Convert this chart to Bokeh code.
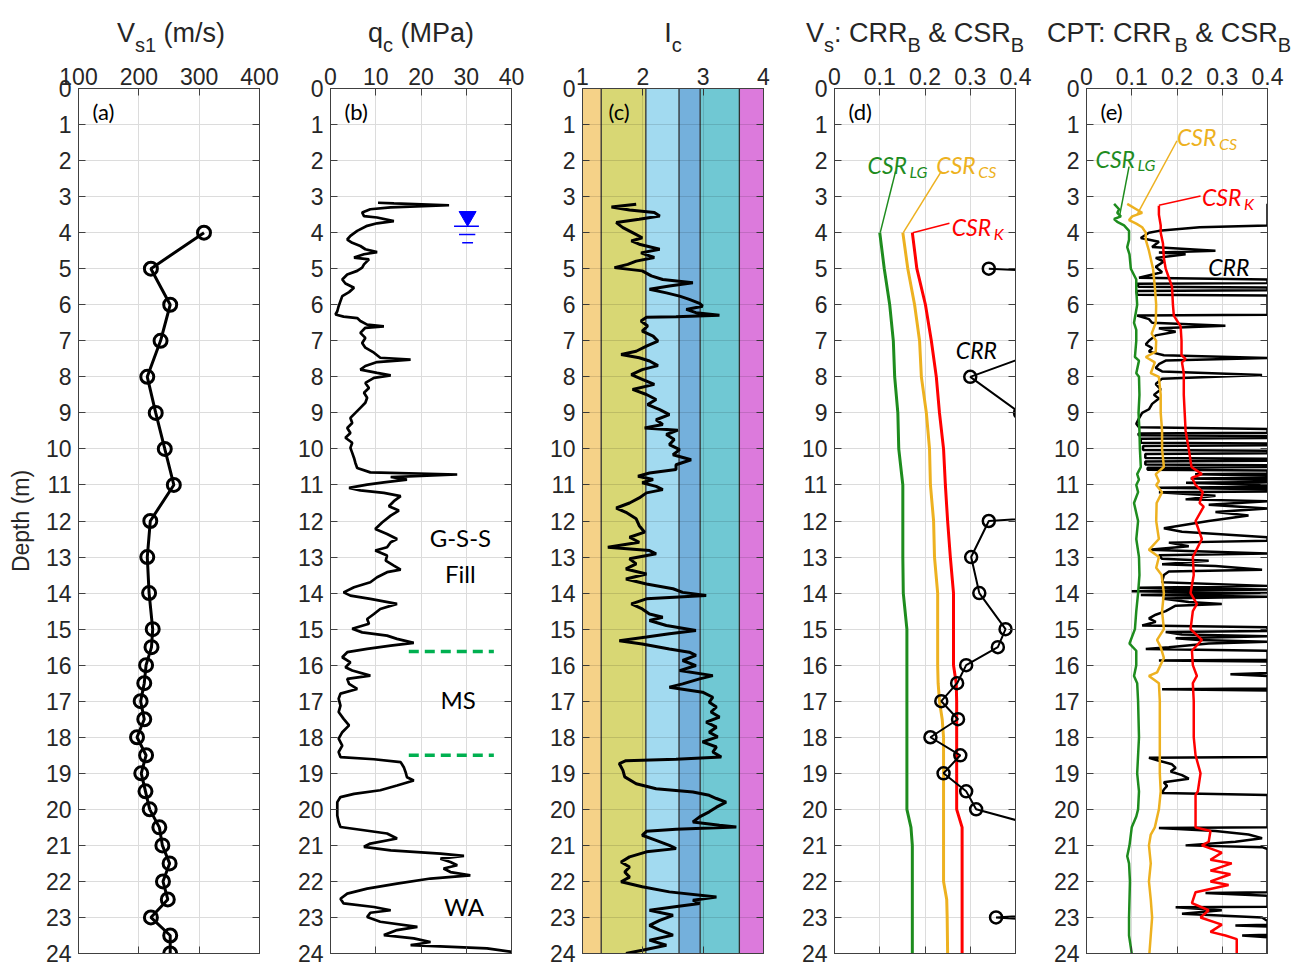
from bokeh.plotting import figure
from bokeh.models import Range1d, FixedTicker, LinearAxis, Label, CustomJSTickFormatter
from bokeh.layouts import row, column
from bokeh.embed import file_html
from bokeh.resources import INLINE

# ---------------- data ----------------
depth_ticks = list(range(0, 25))

# (a) Vs1
vs_depth = [4, 5, 6, 7, 8, 9, 10, 11, 12, 13, 14, 15, 15.5, 16, 16.5, 17, 17.5, 18, 18.5,
            19, 19.5, 20, 20.5, 21, 21.5, 22, 22.5, 23, 23.5, 24]
vs1 = [308, 220, 252, 236, 214, 228, 243, 258, 219, 214, 217, 223, 221, 212, 209, 203, 209,
       197, 212, 204, 211, 218, 234, 239, 251, 240, 248, 220, 252, 252]

# (b) qc
qc_depth = [3.17, 3.19, 3.24, 3.30, 3.35, 3.44, 3.54, 3.58, 3.68, 3.74, 3.81, 3.95, 4.09, 4.19,
            4.28, 4.37, 4.46, 4.54, 4.60, 4.69, 4.74, 4.88, 4.97, 5.06, 5.16, 5.30, 5.41, 5.53,
            5.65, 5.76, 5.90, 6.04, 6.18, 6.27, 6.33, 6.37, 6.45, 6.55, 6.60, 6.64, 6.78, 6.92,
            7.06, 7.19, 7.33, 7.47, 7.52, 7.59, 7.70, 7.80, 7.89, 7.96, 8.03, 8.17, 8.31, 8.44,
            8.58, 8.72, 8.86, 9.00, 9.14, 9.28, 9.42, 9.56, 9.69, 9.83, 9.97, 10.11, 10.25,
            10.39, 10.53, 10.65, 10.71, 10.78, 10.85, 10.93, 10.99, 11.08, 11.15, 11.22, 11.31,
            11.45, 11.59, 11.71, 11.85, 12.04, 12.22, 12.36, 12.50, 12.59, 12.73, 12.82, 12.96,
            13.10, 13.24, 13.35, 13.42, 13.56, 13.70, 13.84, 13.98, 14.07, 14.16, 14.30, 14.44,
            14.58, 14.72, 14.85, 14.99, 15.09, 15.18, 15.27, 15.38, 15.46, 15.55, 15.64, 15.78,
            15.92, 16.06, 16.15, 16.29, 16.38, 16.52, 16.66, 16.79, 16.93, 17.12, 17.30, 17.49,
            17.67, 17.86, 18.04, 18.23, 18.41, 18.55, 18.61, 18.69, 18.83, 18.97, 19.11, 19.20,
            19.34, 19.47, 19.57, 19.66, 19.80, 19.98, 20.17, 20.35, 20.49, 20.58, 20.67, 20.81,
            20.95, 21.04, 21.14, 21.23, 21.29, 21.37, 21.46, 21.55, 21.64, 21.74, 21.83, 21.92,
            22.06, 22.20, 22.34, 22.48, 22.61, 22.71, 22.80, 22.87, 22.99, 23.12, 23.26, 23.35,
            23.49, 23.58, 23.68, 23.77, 23.86, 23.95, 24.00]
qc_val = [10.5, 14.0, 26.2, 13.3, 8.8, 7.0, 7.4, 10.3, 14.0, 10.3, 8.1, 5.9, 4.4, 3.7,
          4.8, 6.6, 7.7, 10.3, 7.4, 5.2, 8.5, 7.4, 7.0, 5.9, 3.7, 2.6, 3.3, 5.2,
          4.1, 2.6, 2.2, 1.8, 1.5, 1.1, 2.9, 5.9, 6.6, 8.1, 11.8, 7.7, 6.6, 7.7,
          7.0, 7.7, 9.6, 11.0, 17.7, 10.3, 7.7, 6.6, 10.3, 13.3, 9.6, 7.7, 8.5, 7.4,
          8.1, 7.7, 6.6, 5.5, 4.4, 4.8, 3.7, 4.4, 3.3, 4.8, 4.4, 4.8, 5.2,
          5.5, 5.9, 8.8, 28.0, 13.3, 16.9, 11.8, 8.1, 4.1, 6.6, 11.8, 15.5,
          14.0, 12.9, 15.1, 13.3, 11.4, 9.9, 12.5, 14.7, 13.3, 12.5, 9.9, 12.5,
          12.2, 14.0, 15.5, 12.5, 10.3, 8.8, 5.2, 2.9, 4.4, 8.8, 14.7, 11.0,
          9.6, 8.1, 8.5, 4.8, 7.0, 12.5, 14.7, 18.4, 13.3, 8.1, 3.7, 2.6,
          4.4, 3.3, 4.8, 8.8, 3.7, 4.1, 5.9, 2.2, 1.8, 2.2, 1.8, 2.9,
          4.1, 2.6, 1.8, 2.6, 1.8, 2.2, 9.6, 15.5, 16.2, 16.6, 16.9, 18.4,
          14.7, 11.0, 5.2, 2.2, 1.5, 1.5, 1.5, 1.8, 2.2, 7.4, 12.5, 14.7,
          8.8, 7.4, 13.3, 24.3, 29.5, 24.3, 26.5, 28.0, 25.0, 26.5, 30.9, 22.1,
          14.7, 8.1, 3.7, 2.2, 2.9, 9.6, 13.3, 8.8, 8.1, 11.0, 19.2, 14.7,
          11.8, 18.4, 22.1, 17.7, 34.6, 39.8, 39.8]
gwt_depth = 3.55
gwt_qc = 30.3
layer_bounds = [15.62, 18.5]
layer_names = ["G-S-S", "Fill", "MS", "WA"]

# (c) Ic
ic_zone_bounds = [1.0, 1.31, 2.05, 2.60, 2.95, 3.60, 4.0]
ic_zone_colors = ["#F5D288", "#D8D774", "#A2DAF0", "#74B0DC", "#70C8D3", "#DC7ADC"]
ic_depth = [3.21, 3.29, 3.37, 3.44, 3.54, 3.63, 3.72, 3.86, 4.00, 4.14, 4.23, 4.32, 4.46, 4.56,
            4.69, 4.79, 4.88, 4.97, 5.06, 5.20, 5.30, 5.39, 5.48, 5.57, 5.67, 5.76, 5.85, 5.96,
            6.04, 6.13, 6.22, 6.29, 6.33, 6.35, 6.45, 6.59, 6.73, 6.87, 7.01, 7.15, 7.29, 7.38,
            7.47, 7.56, 7.69, 7.80, 7.94, 8.07, 8.21, 8.35, 8.49, 8.63, 8.77, 8.91, 9.05, 9.19,
            9.32, 9.42, 9.48, 9.60, 9.74, 9.88, 10.02, 10.16, 10.30, 10.44, 10.57, 10.67, 10.76,
            10.85, 10.94, 11.04, 11.13, 11.22, 11.36, 11.50, 11.64, 11.76, 11.94, 12.13, 12.31,
            12.45, 12.59, 12.73, 12.82, 12.91, 13.05, 13.19, 13.33, 13.47, 13.61, 13.75, 13.88,
            13.98, 14.07, 14.16, 14.30, 14.44, 14.58, 14.67, 14.76, 14.90, 15.04, 15.13, 15.22,
            15.32, 15.41, 15.55, 15.64, 15.73, 15.87, 16.01, 16.15, 16.29, 16.38, 16.52, 16.61,
            16.75, 16.89, 17.03, 17.16, 17.30, 17.44, 17.58, 17.72, 17.86, 17.99, 18.13, 18.27,
            18.41, 18.55, 18.61, 18.65, 18.73, 18.92, 19.10, 19.29, 19.43, 19.52, 19.61, 19.70,
            19.80, 19.94, 20.07, 20.21, 20.35, 20.44, 20.49, 20.55, 20.61, 20.72, 20.86, 21.00,
            21.09, 21.18, 21.32, 21.46, 21.60, 21.74, 21.88, 22.01, 22.15, 22.29, 22.43, 22.52,
            22.61, 22.71, 22.80, 22.94, 23.08, 23.22, 23.35, 23.49, 23.63, 23.77, 23.91, 24.00]
ic_val = [1.89, 1.48, 1.78, 2.19, 2.28, 1.94, 1.56, 1.67, 1.83, 1.99, 1.81, 1.94, 2.28, 1.97,
          2.19, 1.89, 1.75, 1.53, 1.99, 2.14, 2.33, 2.83, 2.44, 2.11, 2.39, 2.61, 2.77, 2.94,
          2.99, 2.72, 2.88, 3.27, 2.55, 2.06, 1.97, 2.08, 1.99, 2.17, 2.25, 2.06, 1.89, 1.64,
          1.94, 2.11, 2.25, 1.99, 1.81, 1.99, 2.19, 1.83, 2.06, 2.22, 2.08, 2.28, 2.44, 2.22,
          2.33, 2.03, 2.58, 2.39, 2.52, 2.44, 2.61, 2.50, 2.80, 2.55, 2.55, 2.11, 1.92,
          2.17, 1.99, 2.22, 2.33, 2.06, 1.94, 1.78, 1.56, 1.72, 1.89, 1.94, 2.03,
          1.78, 1.94, 1.42, 2.11, 2.22, 1.78, 1.89, 1.72, 2.06, 1.72, 2.06, 2.50,
          2.66, 3.05, 2.06, 1.81, 1.99, 2.11, 2.33, 2.11, 2.39, 2.88, 2.44, 2.06,
          1.61, 1.99, 2.44, 2.77, 2.88, 2.66, 2.88, 2.61, 3.16, 2.94, 2.66, 2.44,
          2.99, 3.16, 3.10, 3.22, 3.13, 3.27, 3.05, 3.22, 3.10, 3.24, 2.99, 3.22,
          3.16, 3.30, 2.55, 1.72, 1.61, 1.67, 1.70, 1.89, 2.22, 2.83, 3.10, 3.22,
          3.38, 3.22, 3.10, 2.94, 2.83, 3.27, 3.55, 2.55, 2.06, 1.99, 2.22, 2.44,
          2.55, 2.06, 1.78, 1.64, 1.78, 1.70, 1.78, 1.64, 1.99, 2.44, 3.22, 2.83,
          2.94, 2.50, 2.11, 2.50, 2.28, 2.11, 2.28, 2.50, 2.11, 2.39, 1.99, 1.72]

# (d) Vs-based CRR & CSR
d_depth = [4, 5, 6, 7, 8, 9, 10, 11, 12, 13, 14, 15, 16, 16.5, 17, 17.5, 18, 19, 20, 20.5,
           21, 22, 22.5, 23, 24]
d_csr_lg = [0.100, 0.110, 0.122, 0.130, 0.133, 0.140, 0.142, 0.151, 0.151, 0.151, 0.152,
            0.160, 0.160, 0.160, 0.160, 0.160, 0.160, 0.160, 0.160, 0.169, 0.172, 0.172,
            0.172, 0.172, 0.172]
d_csr_cs = [0.151, 0.162, 0.177, 0.188, 0.192, 0.203, 0.210, 0.212, 0.219, 0.221, 0.228,
            0.228, 0.228, 0.229, 0.232, 0.238, 0.241, 0.241, 0.241, 0.241, 0.241, 0.241,
            0.248, 0.249, 0.250]
d_csr_k = [0.172, 0.182, 0.201, 0.214, 0.225, 0.232, 0.241, 0.245, 0.250, 0.256, 0.263,
           0.263, 0.263, 0.269, 0.270, 0.270, 0.270, 0.270, 0.270, 0.282, 0.282, 0.282,
           0.282, 0.282, 0.282]
d_crr_depth = [5, 6, 7, 8, 9, 10, 11, 12, 13, 14, 15, 15.5, 16, 16.5, 17, 17.5, 18, 18.5,
               19, 19.5, 20, 20.5, 21, 21.5, 22, 22.5, 23, 23.5, 24]
d_crr = [0.341, 2.0, 0.52, 0.300, 0.41, 1.5, 1.5, 0.341, 0.302, 0.320, 0.378, 0.361, 0.291,
         0.271, 0.236, 0.273, 0.212, 0.278, 0.241, 0.291, 0.313, 0.46, 1.0, 1.0, 1.0, 1.0,
         0.357, 1.0, 1.0]

# (e) CPT-based CRR & CSR
e_lg_depth = [3.20, 3.35, 3.45, 3.55, 3.62, 3.70, 3.80, 3.95, 4.20, 4.40, 4.60, 5.00, 5.30,
              5.60, 6.00, 6.50, 6.70, 7.00, 7.45, 7.55, 7.90, 8.00, 8.50, 9.00, 9.50, 10.00,
              10.50, 10.70, 10.85, 11.00, 11.20, 11.50, 12.00, 12.50, 13.00, 13.50, 14.00,
              14.50, 15.00, 15.40, 15.60, 16.00, 16.30, 16.50, 17.00, 18.00, 19.00, 19.50,
              20.00, 20.20, 20.50, 21.00, 21.30, 21.50, 22.00, 22.50, 23.00, 23.50, 24.00]
e_csr_lg = [0.061, 0.072, 0.068, 0.076, 0.061, 0.068, 0.083, 0.094, 0.094, 0.090, 0.095,
            0.098, 0.110, 0.110, 0.112, 0.105, 0.110, 0.110, 0.107, 0.116, 0.110, 0.116,
            0.117, 0.115, 0.117, 0.118, 0.120, 0.112, 0.116, 0.110, 0.114, 0.105, 0.114,
            0.110, 0.116, 0.117, 0.114, 0.110, 0.107, 0.095, 0.110, 0.110, 0.105, 0.112,
            0.114, 0.116, 0.112, 0.116, 0.114, 0.110, 0.100, 0.095, 0.090, 0.094, 0.096,
            0.095, 0.094, 0.094, 0.100]
e_cs_depth = [3.20, 3.35, 3.45, 3.55, 3.65, 3.75, 3.85, 4.00, 4.20, 4.50, 5.00, 5.50, 6.00,
              6.50, 6.80, 7.00, 7.30, 7.45, 7.60, 7.90, 8.00, 8.50, 9.00, 9.50, 10.00, 10.50,
              10.70, 10.90, 11.00, 11.20, 11.50, 12.00, 12.50, 12.80, 13.00, 13.30, 13.50,
              14.00, 14.50, 15.00, 15.30, 15.50, 15.80, 16.20, 16.30, 16.50, 17.00, 18.00,
              18.50, 19.00, 19.50, 20.00, 20.50, 20.70, 21.00, 21.50, 22.00, 22.50, 23.00,
              23.50, 24.00]
e_csr_cs = [0.090, 0.110, 0.123, 0.101, 0.094, 0.110, 0.123, 0.131, 0.131, 0.138, 0.147,
            0.151, 0.154, 0.153, 0.144, 0.154, 0.153, 0.131, 0.151, 0.142, 0.160, 0.164,
            0.164, 0.167, 0.167, 0.171, 0.153, 0.160, 0.154, 0.167, 0.155, 0.154, 0.160,
            0.138, 0.160, 0.154, 0.166, 0.171, 0.167, 0.171, 0.156, 0.164, 0.171, 0.156,
            0.138, 0.160, 0.162, 0.162, 0.162, 0.162, 0.164, 0.160, 0.151, 0.142, 0.138,
            0.142, 0.138, 0.142, 0.145, 0.142, 0.139]
e_k_depth = [3.25, 3.50, 3.80, 4.00, 4.30, 4.70, 5.00, 5.50, 6.00, 6.30, 6.60, 7.00, 7.40,
             7.50, 7.60, 7.90, 8.00, 8.50, 9.00, 9.50, 10.00, 10.50, 10.70, 10.80, 11.00,
             11.20, 11.50, 11.60, 12.00, 12.50, 13.00, 13.50, 14.00, 14.30, 14.50, 15.00,
             15.30, 15.60, 16.00, 16.30, 16.50, 17.00, 18.00, 18.50, 19.00, 19.50, 19.60,
             20.00, 20.50, 20.60, 20.90, 21.00, 21.20, 21.40, 21.50, 21.70, 21.80, 22.00,
             22.10, 22.30, 22.60, 22.80, 23.00, 23.20, 23.40, 23.50, 23.60, 24.00]
e_csr_k = [0.160, 0.160, 0.164, 0.164, 0.169, 0.171, 0.175, 0.189, 0.191, 0.193, 0.208,
           0.210, 0.210, 0.219, 0.211, 0.215, 0.215, 0.215, 0.217, 0.219, 0.226, 0.232,
           0.255, 0.233, 0.241, 0.257, 0.250, 0.259, 0.241, 0.255, 0.235, 0.237, 0.230,
           0.244, 0.235, 0.230, 0.255, 0.233, 0.235, 0.244, 0.235, 0.237, 0.237, 0.241,
           0.252, 0.246, 0.241, 0.241, 0.241, 0.274, 0.270, 0.255, 0.299, 0.274, 0.321,
           0.274, 0.318, 0.274, 0.314, 0.241, 0.233, 0.270, 0.252, 0.299, 0.274, 0.307,
           0.332, 0.332]
e_crr_depth = [3.20, 3.80, 3.85, 3.95, 4.00, 4.15, 4.25, 4.40, 4.50, 4.55, 4.60, 4.70, 4.80,
               4.95, 5.10, 5.25, 5.30, 5.40, 5.42, 5.50, 5.52, 5.60, 5.62, 5.72, 5.74, 6.28,
               6.30, 6.40, 6.50, 6.58, 6.65, 6.75, 6.85, 7.00, 7.10, 7.20, 7.30, 7.40, 7.48,
               7.55, 7.65, 7.75, 7.85, 7.95, 8.05, 8.20, 8.35, 8.50, 8.60, 8.75, 8.90, 9.00,
               9.15, 9.30, 9.40, 9.45, 9.55, 9.57, 9.62, 9.64, 9.70, 9.72, 9.83, 9.85, 9.90,
               9.92, 10.03, 10.05, 10.12, 10.14, 10.25, 10.27, 10.33, 10.35, 10.43, 10.45,
               10.50, 10.52, 10.58, 10.60, 10.68, 10.70, 10.74, 10.80, 10.82, 10.86, 10.92,
               10.94, 11.00, 11.05, 11.08, 11.12, 11.18, 11.20, 11.30, 11.40, 11.45, 11.55,
               11.65, 11.75, 11.85, 12.00, 12.20, 12.30, 12.45, 12.55, 12.60, 12.70, 12.80,
               12.90, 12.95, 13.05, 13.10, 13.20, 13.25, 13.35, 13.40, 13.50, 13.70, 13.80,
               13.85, 13.90, 13.95, 14.00, 14.05, 14.10, 14.15, 14.25, 14.30, 14.35, 14.50,
               14.60, 14.70, 14.80, 14.90, 14.95, 15.05, 15.08, 15.15, 15.20, 15.25, 15.30,
               15.35, 15.40, 15.50, 15.55, 15.60, 15.85, 15.87, 15.90, 16.22, 16.25, 16.30,
               16.65, 16.67, 16.70, 18.55, 18.57, 18.65, 18.75, 18.85, 18.95, 19.05, 19.15,
               19.25, 19.35, 19.45, 19.55, 19.60, 20.50, 20.52, 20.60, 20.70, 20.80, 20.90,
               21.00, 21.05, 21.10, 22.30, 22.32, 22.40, 22.70, 22.72, 22.80, 22.90, 23.00,
               23.10, 23.20, 23.22, 23.25, 23.48, 23.50, 23.55, 24.00]
e_crr = [0.40, 0.40, 0.25, 0.16, 0.138, 0.12, 0.16, 0.145, 0.285, 0.16, 0.219, 0.153, 0.171,
         0.153, 0.167, 0.116, 0.40, 0.40, 0.112, 0.115, 0.40, 0.40, 0.11, 0.112, 0.40, 0.40,
         0.112, 0.138, 0.145, 0.307, 0.16, 0.197, 0.153, 0.138, 0.131, 0.145, 0.138, 0.171, 0.40,
         0.175, 0.16, 0.153, 0.167, 0.388, 0.167, 0.153, 0.164, 0.149, 0.16, 0.145, 0.138, 0.123,
         0.116, 0.11, 0.116, 0.40, 0.40, 0.115, 0.115, 0.40, 0.40, 0.12, 0.12, 0.40, 0.40,
         0.125, 0.125, 0.40, 0.40, 0.13, 0.13, 0.40, 0.40, 0.13, 0.13, 0.40,
         0.40, 0.135, 0.135, 0.40, 0.40, 0.24, 0.40, 0.40, 0.23, 0.40, 0.40,
         0.22, 0.40, 0.40, 0.16, 0.40, 0.40, 0.16, 0.285, 0.219, 0.40, 0.27,
         0.40, 0.285, 0.358, 0.27, 0.171, 0.211, 0.40, 0.40, 0.182, 0.226, 0.138,
         0.40, 0.16, 0.167, 0.27, 0.167, 0.285, 0.388, 0.182, 0.171, 0.167, 0.40,
         0.116, 0.40, 0.10, 0.40, 0.12, 0.40, 0.167, 0.226, 0.299, 0.197, 0.175,
         0.153, 0.138, 0.153, 0.123, 0.40, 0.40, 0.175, 0.211, 0.40, 0.197, 0.248,
         0.40, 0.27, 0.182, 0.131, 0.40, 0.40, 0.16, 0.40, 0.40, 0.318, 0.40,
         0.40, 0.167, 0.40, 0.40, 0.138, 0.16, 0.189, 0.197, 0.186, 0.211, 0.226,
         0.171, 0.178, 0.171, 0.167, 0.40, 0.40, 0.16, 0.285, 0.358, 0.388, 0.329,
         0.219, 0.388, 0.40, 0.40, 0.263, 0.40, 0.40, 0.197, 0.299, 0.211, 0.388,
         0.40, 0.40, 0.329, 0.40, 0.40, 0.344, 0.40, 0.40]

# ---------------- styling ----------------
FW, FH = 181, 865
TITLE_H = 56          # height of the strip that carries the panel titles
TOP, BOT = 32, 15     # panel borders below the title strip
LEFT_A, LEFT, RIGHT = 78, 51, 20
STRIP_W = 1306
NUM_FONT = "Liberation Sans"
ANN_FONT = "Lato"
AX = "#404040"
TXT = "#262626"
GRID = "#dcdcdc"
GREEN = "#1E8C1E"
GOLD = "#EDB120"
RED = "#FF0000"
TITLE_MAIN, TITLE_SUB = 27, 20

ARIAL = {"V": 667, "s": 500, "1": 556, " ": 278, "(": 333, "m": 833, "/": 278, ")": 333,
         "q": 556, "c": 500, "M": 833, "P": 667, "a": 556, "I": 278, ":": 278, "C": 722,
         "R": 722, "B": 667, "&": 667, "T": 611, "S": 667}


def tw(s, size):
    return sum(ARIAL.get(ch, 556) for ch in s) / 1000.0 * size


def make_panel(xr, xticks, fmt, left, right, ylabel=None):
    p = figure(x_range=Range1d(*xr), y_range=Range1d(24, 0), x_axis_location="above",
               frame_width=FW, frame_height=FH, min_border_left=left, min_border_right=right,
               min_border_top=TOP, min_border_bottom=BOT, output_backend="svg",
               toolbar_location=None, background_fill_color="white")
    xt = FixedTicker(ticks=xticks)
    yt = FixedTicker(ticks=depth_ticks)
    xa, ya = p.xaxis[0], p.yaxis[0]
    xa.ticker = xt
    ya.ticker = yt
    xa.formatter = CustomJSTickFormatter(code=fmt)
    ya.formatter = CustomJSTickFormatter(code="return tick.toFixed(0);")
    for ax in (xa, ya):
        ax.major_tick_in = 7
        ax.major_tick_out = 0
        ax.minor_tick_line_color = None
        ax.axis_line_color = AX
        ax.major_tick_line_color = AX
        ax.major_label_text_font = NUM_FONT
        ax.major_label_text_font_size = "23px"
        ax.major_label_text_color = TXT
    xa.major_label_standoff = 4
    ya.major_label_standoff = 7
    if ylabel:
        ya.axis_label = ylabel
        ya.axis_label_text_font = NUM_FONT
        ya.axis_label_text_font_size = "23px"
        ya.axis_label_text_font_style = "normal"
        ya.axis_label_text_color = TXT
        ya.axis_label_standoff = 9
    for loc, tk in (("right", yt), ("below", xt)):
        ax = LinearAxis(ticker=tk, formatter=CustomJSTickFormatter(code="return '';"),
                        major_tick_in=7, major_tick_out=0, minor_tick_line_color=None,
                        axis_line_color=AX, major_tick_line_color=AX,
                        major_label_text_font_size="1px", major_label_standoff=0)
        p.add_layout(ax, loc)
    p.xgrid.grid_line_color = GRID
    p.ygrid.grid_line_color = GRID
    p.outline_line_color = AX
    return p


def add_tag(p, xmin, tag, dx=14):
    p.add_layout(Label(x=xmin, y=0.64, x_offset=dx, text=tag, text_font=ANN_FONT,
                       text_font_size="22px", text_color="black", text_baseline="middle"))


def add_csr_label(p, x, y, sub, color, subdx):
    p.add_layout(Label(x=x, y=y, text="CSR", text_font=ANN_FONT, text_font_style="italic",
                       text_font_size="23px", text_color=color, text_baseline="alphabetic"))
    p.add_layout(Label(x=x, y=y, x_offset=subdx, y_offset=-6, text=sub, text_font=ANN_FONT,
                       text_font_style="italic", text_font_size="16px", text_color=color,
                       text_baseline="alphabetic"))


INT_FMT = "return tick.toFixed(0);"
DEC_FMT = "return tick === 0 ? '0' : tick.toFixed(1);"

# (a)
pa = make_panel((100, 400), [100, 200, 300, 400], INT_FMT, LEFT_A, RIGHT, ylabel="Depth (m)")
pa.line(vs1, vs_depth, line_color="black", line_width=3)
pa.scatter(vs1, vs_depth, marker="circle", size=13, fill_color=None, line_color="black",
           line_width=3)
add_tag(pa, 100, "(a)")

# (b)
pb = make_panel((0, 40), [0, 10, 20, 30, 40], INT_FMT, LEFT, RIGHT)
pb.line(qc_val, qc_depth, line_color="black", line_width=2.7)
pb.scatter([gwt_qc], [gwt_depth], marker="inverted_triangle", size=17, fill_color="#0000FF",
           line_color="#0000FF")
pb.segment(x0=[27.3, 28.4, 29.1], x1=[32.8, 32.0, 31.5],
           y0=[3.82, 4.05, 4.28], y1=[3.82, 4.05, 4.28], line_color="#0000FF", line_width=1.5)
for d in layer_bounds:
    pb.line([17.3, 36.1], [d, d], line_color="#00B050", line_width=3.5, line_dash="10 6")
for name, qx, dy in zip(layer_names, [28.7, 28.7, 28.2, 29.5], [12.45, 13.45, 16.95, 22.7]):
    pb.add_layout(Label(x=qx, y=dy, text=name, text_font=ANN_FONT, text_font_size="24px",
                        text_color="black", text_align="center", text_baseline="middle"))
add_tag(pb, 0, "(b)")

# (c)
pc = make_panel((1, 4), [1, 2, 3, 4], INT_FMT, LEFT, RIGHT)
pc.quad(left=ic_zone_bounds[:-1], right=ic_zone_bounds[1:], top=[0] * 6, bottom=[24] * 6,
        fill_color=ic_zone_colors, line_color=None)
pc.segment(x0=ic_zone_bounds[1:-1], x1=ic_zone_bounds[1:-1], y0=[0] * 5, y1=[24] * 5,
           line_color="#303030", line_width=1.3)
pc.xgrid.level = "overlay"
pc.ygrid.level = "overlay"
pc.xgrid.grid_line_color = "black"
pc.ygrid.grid_line_color = "black"
pc.xgrid.grid_line_alpha = 0.12
pc.ygrid.grid_line_alpha = 0.12
pc.line(ic_val, ic_depth, line_color="black", line_width=3)
add_tag(pc, 1, "(c)", dx=26)

# (d)
pd = make_panel((0, 0.4), [0, 0.1, 0.2, 0.3, 0.4], DEC_FMT, LEFT, RIGHT)
pd.line(d_csr_lg, d_depth, line_color=GREEN, line_width=3)
pd.line(d_csr_cs, d_depth, line_color=GOLD, line_width=3)
pd.line(d_csr_k, d_depth, line_color=RED, line_width=3)
pd.line(d_crr, d_crr_depth, line_color="black", line_width=2)
pd.scatter(d_crr, d_crr_depth, marker="circle", size=12, fill_color=None, line_color="black",
           line_width=2.5)
pd.line([0.135, 0.101], [2.3, 4.0], line_color=GREEN, line_width=1.5)
pd.line([0.236, 0.152], [2.3, 4.0], line_color=GOLD, line_width=1.5)
pd.line([0.254, 0.173], [3.74, 4.0], line_color=RED, line_width=1.5)
add_csr_label(pd, 0.073, 2.13, "LG", GREEN, 42)
add_csr_label(pd, 0.225, 2.13, "CS", GOLD, 42)
add_csr_label(pd, 0.259, 3.85, "K", RED, 42)
pd.add_layout(Label(x=0.268, y=7.25, text="CRR", text_font=ANN_FONT, text_font_style="italic",
                    text_font_size="23px", text_color="black", text_baseline="middle"))
add_tag(pd, 0, "(d)")

# (e)
pe = make_panel((0, 0.4), [0, 0.1, 0.2, 0.3, 0.4], DEC_FMT, LEFT, RIGHT)
pe.line(e_crr, e_crr_depth, line_color="black", line_width=2.5)
pe.line(e_csr_lg, e_lg_depth, line_color=GREEN, line_width=2.5)
pe.line(e_csr_cs, e_cs_depth, line_color=GOLD, line_width=2.5)
pe.line(e_csr_k, e_k_depth, line_color=RED, line_width=2.5)
pe.line([0.094, 0.073], [2.17, 3.54], line_color=GREEN, line_width=1.5)
pe.line([0.2, 0.112], [1.45, 3.49], line_color=GOLD, line_width=1.5)
pe.line([0.252, 0.16], [2.98, 3.24], line_color=RED, line_width=1.5)
add_csr_label(pe, 0.02, 1.95, "LG", GREEN, 42)
add_csr_label(pe, 0.20, 1.35, "CS", GOLD, 42)
add_csr_label(pe, 0.255, 3.02, "K", RED, 42)
pe.add_layout(Label(x=0.269, y=4.95, text="CRR", text_font=ANN_FONT, text_font_style="italic",
                    text_font_size="23px", text_color="black", text_baseline="middle"))
add_tag(pe, 0, "(e)")

# ---------------- title strip (texts with sub-scripts) ----------------
frame_lefts = [LEFT_A + i * (FW + RIGHT + LEFT) for i in range(5)]
titles = [
    ([("V", False), ("s1", True), (" (m/s)", False)], 2),
    ([("q", False), ("c", True), (" (MPa)", False)], 0),
    ([("I", False), ("c", True)], 0),
    ([("V", False), ("s", True), (": CRR", False), ("B", True), (" & CSR", False), ("B", True)], -10),
    ([("CPT: CRR", False), ("B", True), (" & CSR", False), ("B", True)], -8),
]
pt = figure(x_range=Range1d(0, STRIP_W), y_range=Range1d(TITLE_H, 0), frame_width=STRIP_W,
            frame_height=TITLE_H, min_border=0, x_axis_type=None, y_axis_type=None,
            output_backend="svg", toolbar_location=None, outline_line_color=None)
pt.grid.visible = False
for fl, (pieces, shift) in zip(frame_lefts, titles):
    total = sum(tw(t, TITLE_SUB if sub else TITLE_MAIN) for t, sub in pieces)
    x = fl + FW / 2.0 - total / 2.0 + shift
    for t, sub in pieces:
        size = TITLE_SUB if sub else TITLE_MAIN
        lead = len(t) - len(t.lstrip(" "))
        pt.add_layout(Label(x=x + tw(" " * lead, size), y=44 if sub else 32, text=t.strip(),
                            text_font=NUM_FONT, text_font_size=f"{size}px", text_color=TXT,
                            text_baseline="alphabetic", text_align="left"))
        x += tw(t, size)

layout = column(pt, row(pa, pb, pc, pd, pe))
open("out.html", "w").write(file_html(layout, INLINE))
